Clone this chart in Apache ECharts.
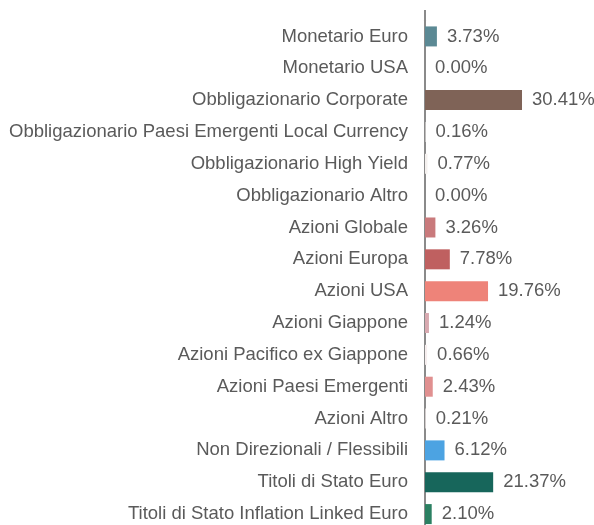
<!DOCTYPE html>
<html>
<head>
<meta charset="utf-8">
<script src="https://cdn.jsdelivr.net/npm/echarts@6/dist/echarts.min.js"></script>
<style>
  html, body { margin: 0; padding: 0; background: #fff; overflow: hidden; }
  #chart { width: 594px; height: 545px; }
</style>
</head>
<body>
<div id="chart"></div>
<script>
// categories, top to bottom
var categories = [
  'Monetario Euro',
  'Monetario USA',
  'Obbligazionario Corporate',
  'Obbligazionario Paesi Emergenti Local Currency',
  'Obbligazionario High Yield',
  'Obbligazionario Altro',
  'Azioni Globale',
  'Azioni Europa',
  'Azioni USA',
  'Azioni Giappone',
  'Azioni Pacifico ex Giappone',
  'Azioni Paesi Emergenti',
  'Azioni Altro',
  'Non Direzionali / Flessibili',
  'Titoli di Stato Euro',
  'Titoli di Stato Inflation Linked Euro'
];
var values = [3.73, 0.00, 30.41, 0.16, 0.77, 0.00, 3.26, 7.78, 19.76, 1.24, 0.66, 2.43, 0.21, 6.12, 21.37, 2.10];
var barColors = [
  '#5b8994', '#5b8994', '#7f6357', '#f4f0ee', '#f4f0ee', '#f4f0ee',
  '#c97a7c', '#bf6060', '#ee8379', '#d8a9b0', '#f6eeee', '#e09090',
  '#f6eeee', '#4ca3e2', '#17665b', '#2b8062'
];

var chart = echarts.init(document.getElementById('chart'));

var txt = {
  color: '#5a5a5a',
  fontSize: 18.5,
  fontFamily: 'Liberation Sans, Arial, sans-serif',
  padding: [3, 0, 0, 0]
};

var option = {
  animation: false,
  grid: {
    left: 425,
    top: 20.5,
    height: 509.5,
    width: 127.6
  },
  xAxis: {
    type: 'value',
    min: 0,
    max: 40,
    show: false
  },
  yAxis: {
    type: 'category',
    inverse: true,
    data: categories,
    axisLine: { show: true, lineStyle: { color: '#8a8a8a', width: 2 } },
    axisTick: { show: false },
    axisLabel: Object.assign({ margin: 17 }, txt)
  },
  series: [{
    type: 'bar',
    barWidth: 20,
    data: values.map(function (v, i) {
      return { value: v, itemStyle: { color: barColors[i] } };
    }),
    label: Object.assign({
      show: true,
      position: 'right',
      distance: 10,
      formatter: function (p) { return p.value.toFixed(2) + '%'; }
    }, txt)
  }],
  graphic: [{
    // axis line continues a little above the first band
    type: 'line',
    shape: { x1: 425, y1: 10, x2: 425, y2: 21 },
    style: { stroke: '#8a8a8a', lineWidth: 2 }
  }]
};

chart.setOption(option);
</script>
</body>
</html>
